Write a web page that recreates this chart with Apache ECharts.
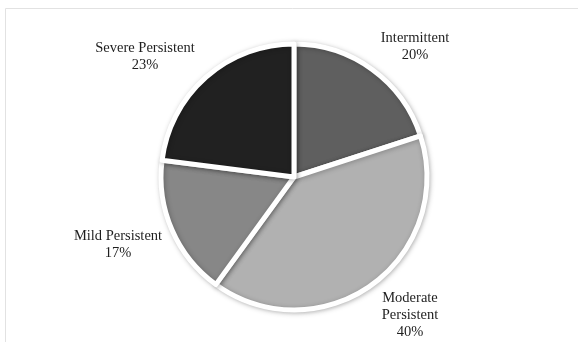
<!DOCTYPE html>
<html lang="en">
<head>
<meta charset="UTF-8">
<title>Asthma severity</title>
<script src="https://cdn.jsdelivr.net/npm/echarts@6/dist/echarts.min.js"></script>
<style>
    html, body { margin: 0; padding: 0; background: #fff; }
    #container { width: 578px; height: 342px; }
</style>
</head>
<body>
<div id="container"></div>
<script type="text/javascript">
    // categories and shares (%)
    var categories = ['Intermittent', 'Moderate\nPersistent', 'Mild Persistent', 'Severe Persistent'];
    var shares = [20, 40, 17, 23];
    var sliceColors = ['#5f5f5f', '#b1b1b1', '#878787', '#212121'];

    // where the labels sit (centre of each text block)
    var labelSpots = [[415, 47], [410, 315], [118, 245], [145, 57]];

    var myChart = echarts.init(document.getElementById('container'), null, { renderer: 'canvas' });

    var option = {
        animation: false,
        graphic: [{
            type: 'rect',
            shape: { x: 5.5, y: 8.5, width: 620, height: 400 },
            style: { fill: 'none', stroke: '#e2e2e2', lineWidth: 1 },
            silent: true
        }],
        series: [{
            type: 'pie',
            center: [294, 177],
            radius: 133,
            startAngle: 90,
            clockwise: true,
            data: categories.map(function (c, i) {
                return { name: c, value: shares[i], itemStyle: { color: sliceColors[i] } };
            }),
            itemStyle: {
                borderColor: '#ffffff',
                borderWidth: 5,
                shadowBlur: 5,
                shadowColor: 'rgba(0,0,0,0.25)',
                shadowOffsetX: 1,
                shadowOffsetY: 1
            },
            label: {
                show: true,
                position: 'outside',
                formatter: '{b}\n{c}%',
                fontFamily: 'Liberation Serif',
                fontSize: 14.5,
                lineHeight: 17,
                color: '#1e1e1e',
                align: 'center'
            },
            labelLine: { show: false },
            labelLayout: function (p) {
                var s = labelSpots[p.dataIndex];
                return { x: s[0], y: s[1], align: 'center', verticalAlign: 'middle' };
            }
        }]
    };
    myChart.setOption(option);
</script>
</body>
</html>
